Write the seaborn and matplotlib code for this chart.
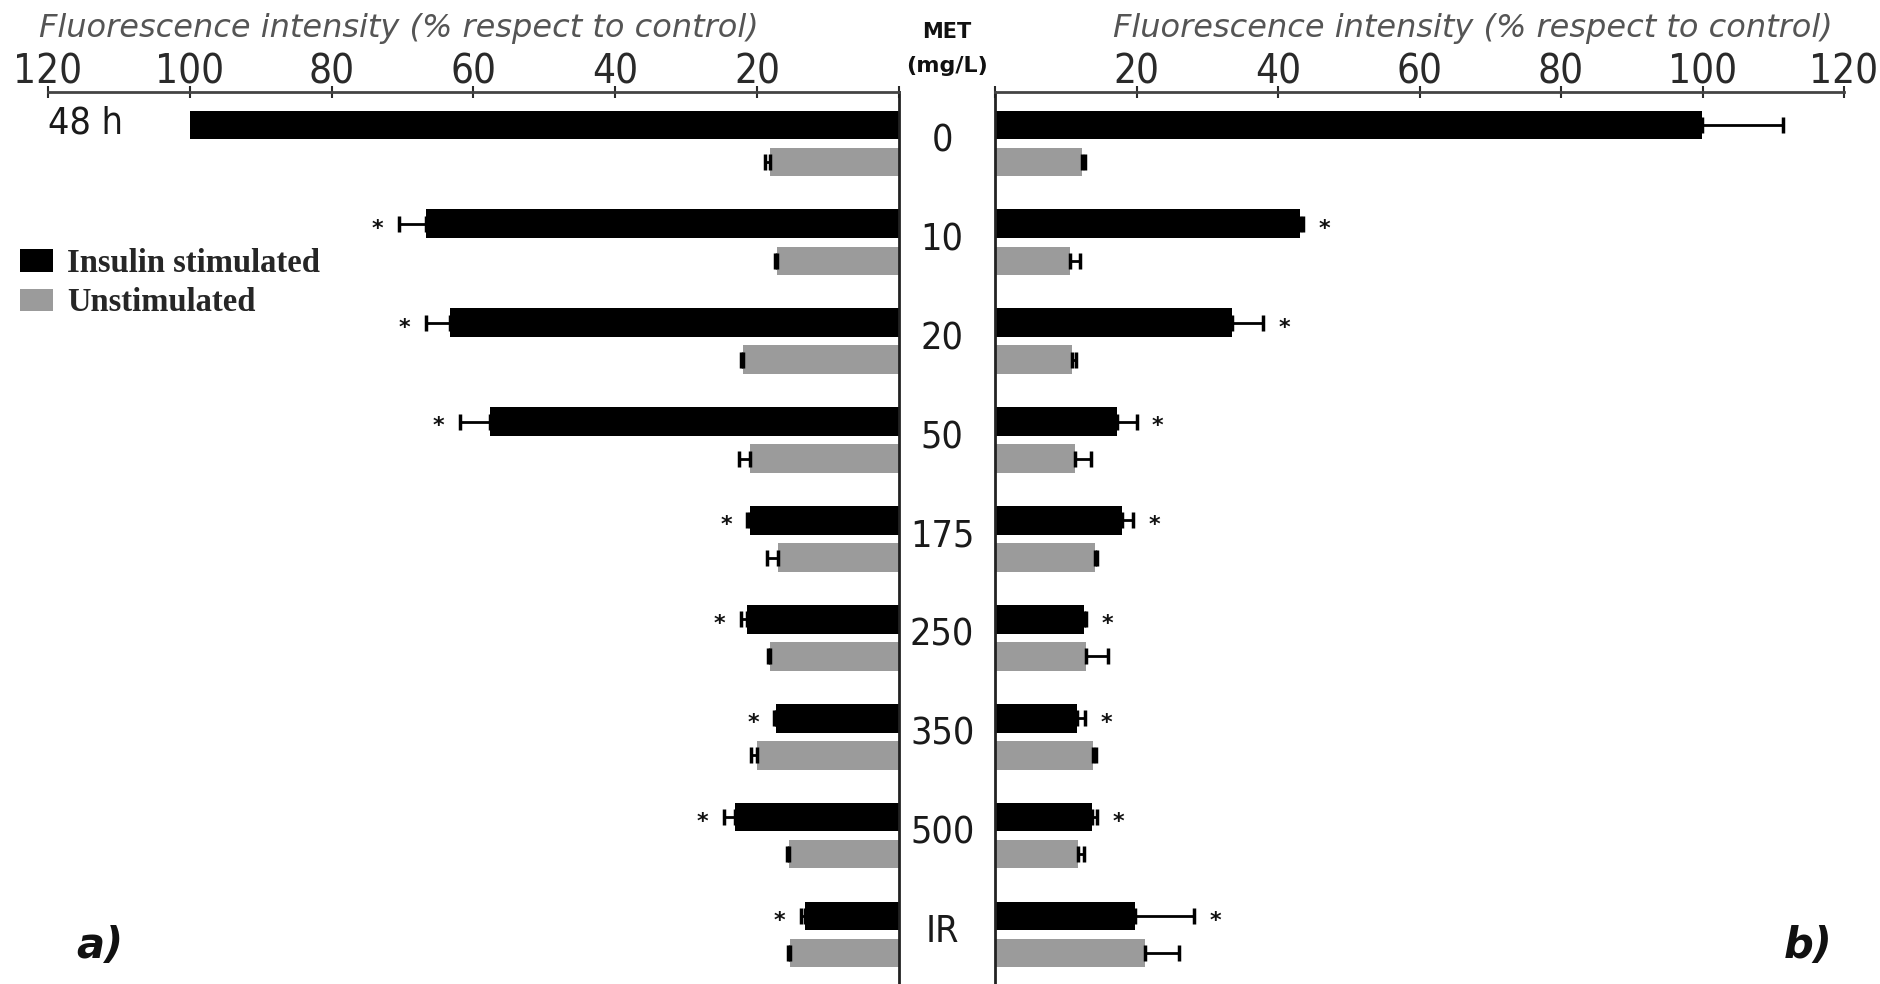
import numpy as np
import pandas as pd
import matplotlib
matplotlib.use("Agg")
import matplotlib.pyplot as plt
import matplotlib.transforms as mtransforms
import seaborn as sns
from matplotlib.patches import Patch
from matplotlib import font_manager as fm

# ---------------- data ----------------
doses = ['0', '10', '20', '50', '175', '250', '350', '500', 'IR']
conditions = ['Insulin stimulated', 'Unstimulated']

left_ins = [100.0, 66.7, 63.3, 57.7, 21.0, 21.4, 17.3, 23.1, 13.3]
left_ins_err = [0.0, 3.8, 3.4, 4.2, 0.4, 0.9, 0.3, 1.6, 0.5]
left_uns = [18.2, 17.2, 22.0, 21.0, 17.1, 18.2, 20.0, 15.5, 15.4]
left_uns_err = [0.7, 0.3, 0.3, 1.6, 1.5, 0.3, 0.9, 0.3, 0.3]

right_ins = [99.9, 43.1, 33.5, 17.2, 17.9, 12.6, 11.6, 13.7, 19.8]
right_ins_err = [11.5, 0.5, 4.4, 2.8, 1.6, 0.3, 1.1, 0.7, 8.3]
right_uns = [12.3, 10.6, 10.9, 11.3, 14.1, 12.9, 13.9, 11.8, 21.2]
right_uns_err = [0.4, 1.4, 0.5, 2.3, 0.3, 3.1, 0.4, 0.8, 4.8]

significant = [False, True, True, True, True, True, True, True, True]

xticks = [0, 20, 40, 60, 80, 100, 120]
xticklabels = ['', '20', '40', '60', '80', '100', '120']
axis_title = 'Fluorescence intensity (% respect to control)'

# ---------------- style ----------------
sns.set_style('white')
plt.rcParams['font.family'] = ['DejaVu Sans']

BLACK = '#000000'
GRAY = '#9b9b9b'
TICKC = '#2a2a2a'

# condensed font if available
cond_fp = None
for f in fm.fontManager.ttflist:
    if 'DejaVuSansCondensed.ttf' in f.fname:
        cond_fp = f.fname
        break
if cond_fp is None:
    for f in fm.fontManager.ttflist:
        if f.name == 'Liberation Sans Narrow' and f.style == 'normal' and f.weight in (400, 'normal', 'regular'):
            cond_fp = f.fname
            break


def numfont(size):
    if cond_fp:
        return fm.FontProperties(fname=cond_fp, size=size)
    return fm.FontProperties(family='DejaVu Sans', size=size)


W, H = 1881, 984
def fx(px):
    return px / W
def fy(py):
    return 1 - py / H

fig = plt.figure(figsize=(W / 100, H / 100), dpi=100)
fig.patch.set_facecolor('white')

top_px = 92
axL = fig.add_axes([fx(48), 0, (899 - 48) / W, (H - top_px) / H])
axR = fig.add_axes([fx(995), 0, (1844 - 995) / W, (H - top_px) / H])


def make_df(ins, uns):
    return pd.DataFrame({
        'dose': doses * 2,
        'value': list(ins) + list(uns),
        'cond': [conditions[0]] * len(doses) + [conditions[1]] * len(doses),
    })


panels = [
    (axL, left_ins, left_ins_err, left_uns, left_uns_err),
    (axR, right_ins, right_ins_err, right_uns, right_uns_err),
]

for ax, ins, ins_err, uns, uns_err in panels:
    df = make_df(ins, uns)
    sns.barplot(data=df, x='value', y='dose', hue='cond', order=doses,
                hue_order=conditions, palette=[BLACK, GRAY], orient='h',
                width=0.75, gap=0.23, errorbar=None, saturation=1,
                legend=False, ax=ax, linewidth=0)
    black_y = None
    for cont, vals, errs in zip(ax.containers, [ins, uns], [ins_err, uns_err]):
        ys = np.array([b.get_y() + b.get_height() / 2 for b in cont])
        vals = np.asarray(vals, float)
        errs = np.asarray(errs, float)
        m = errs > 0
        ax.errorbar(vals[m], ys[m], xerr=[np.zeros(m.sum()), errs[m]],
                    fmt='none', ecolor='black', elinewidth=2, capsize=6,
                    capthick=2.5, zorder=3)
        if black_y is None:
            black_y = ys
    for i, sig in enumerate(significant):
        if sig:
            ax.text(ins[i] + ins_err[i] + 3.0, black_y[i] + 0.05, '*',
                    ha='center', va='center', fontsize=16,
                    fontweight='bold', color='#111')
    ax.set_ylim(8.5, -0.52)
    ax.set_xlabel('')
    ax.set_ylabel('')
    ax.xaxis.tick_top()
    ax.set_xticks(xticks)
    ax.set_xticklabels(xticklabels)
    ax.tick_params(axis='x', direction='inout', length=9, width=1.5,
                   colors=TICKC, pad=-5)
    for lbl in ax.get_xticklabels():
        lbl.set_fontproperties(numfont(29))
        lbl.set_color(TICKC)
    ax.spines['bottom'].set_visible(False)
    for s in ax.spines.values():
        s.set_linewidth(2)
        s.set_color('#222')
    ax.spines['top'].set_color('#444')

axL.set_xlim(120, 0)
axR.set_xlim(0, 120)
axL.spines['left'].set_visible(False)
axR.spines['right'].set_visible(False)
axL.tick_params(axis='y', left=False, right=False, labelleft=False)

axR.set_yticks(range(len(doses)))
axR.set_yticklabels(doses)
axR.tick_params(axis='y', left=False, right=False, pad=(995 - 947) * 0.72)
offset = mtransforms.ScaledTranslation(0, 1.5 / 72, fig.dpi_scale_trans)
for lbl in axR.get_yticklabels():
    lbl.set_fontproperties(numfont(27))
    lbl.set_ha('center')
    lbl.set_va('center')
    lbl.set_color('#1a1a1a')
    lbl.set_transform(lbl.get_transform() + offset)

# ---------------- texts ----------------
fig.text(fx(399), fy(29), axis_title, ha='center', va='center',
         style='italic', fontsize=23, color='#555555')
fig.text(fx(1473), fy(29), axis_title, ha='center', va='center',
         style='italic', fontsize=23, color='#555555')
fig.text(fx(947), fy(32), 'MET', ha='center', va='center',
         fontweight='bold', fontsize=15, color='#111')
fig.text(fx(947), fy(66), '(mg/L)', ha='center', va='center',
         fontweight='bold', fontsize=16, color='#111')
fig.text(fx(48), fy(124), '48 h', ha='left', va='center',
         fontproperties=numfont(27), color='#1a1a1a')
fig.text(fx(76), fy(946), 'a)', ha='left', va='center',
         fontweight='bold', style='italic', fontsize=30, color='#111')
fig.text(fx(1784), fy(946), 'b)', ha='left', va='center',
         fontweight='bold', style='italic', fontsize=30, color='#111')

handles = [Patch(facecolor=BLACK, edgecolor='none'),
           Patch(facecolor=GRAY, edgecolor='none')]
fig.legend(handles, conditions, loc='upper left',
           bbox_to_anchor=(fx(20), fy(248)), frameon=False,
           prop=fm.FontProperties(family='Liberation Serif', weight='bold', size=23.5),
           handlelength=1.0, handleheight=0.68, handletextpad=0.45,
           labelspacing=0.26, borderpad=0, borderaxespad=0)

fig.savefig('out.png', dpi=100, facecolor='white')
